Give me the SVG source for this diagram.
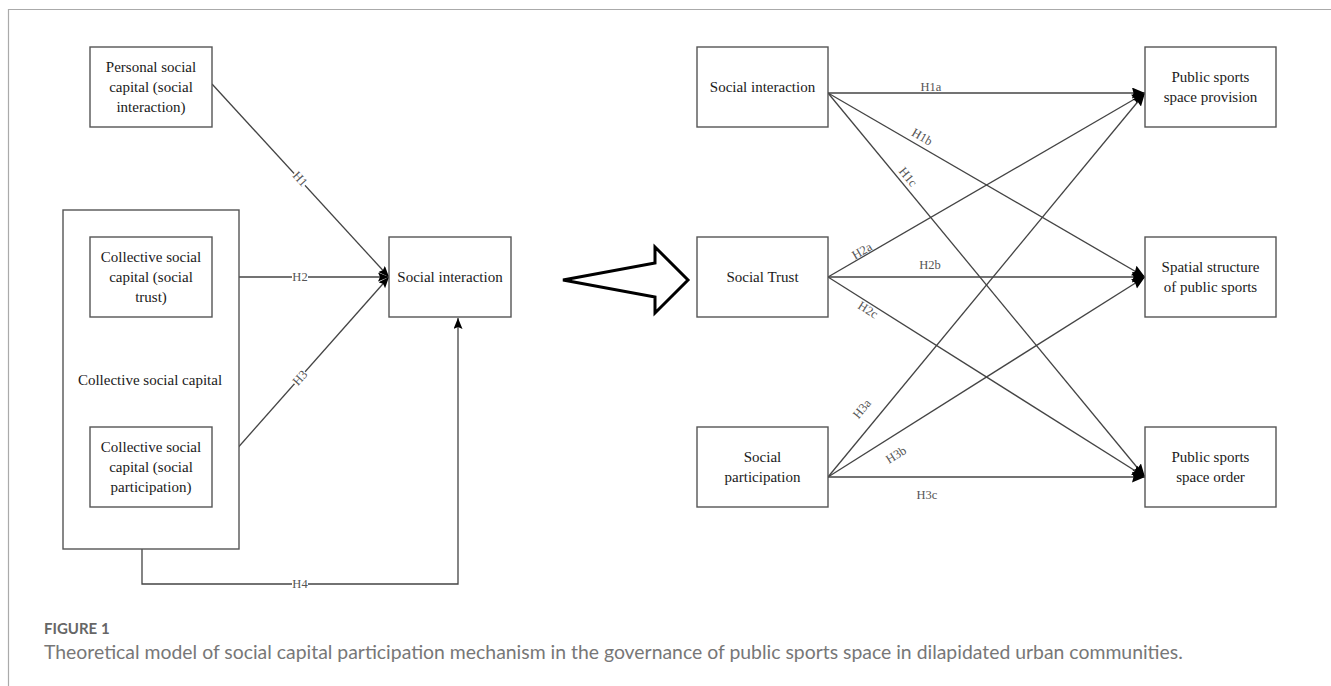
<svg xmlns="http://www.w3.org/2000/svg" width="1331" height="686" viewBox="0 0 1331 686">
<style>
.box{fill:#fff;stroke:#555;stroke-width:1.4}
.t{font-family:"Liberation Serif","Times New Roman",serif;font-size:15px;fill:#1a1a1a;text-anchor:middle}
.lbl{font-family:"Liberation Serif","Times New Roman",serif;font-size:12.5px;fill:#555;text-anchor:middle;dominant-baseline:central}
.ln{fill:none;stroke:#444;stroke-width:1.3}
.cap1{font-family:Lato,"Open Sans",sans-serif;font-size:15px;font-weight:bold;fill:#666}
.cap2{font-family:Lato,"Open Sans",sans-serif;font-size:19.4px;fill:#777}
</style>
<defs>
<marker id="a1" markerUnits="userSpaceOnUse" markerWidth="12" markerHeight="10" refX="11" refY="4.5" orient="auto"><path d="M0,0 L11,4.5 L0,9 L2,4.5 z" fill="#000"/></marker>
<marker id="a2" markerUnits="userSpaceOnUse" markerWidth="14" markerHeight="12" refX="13" refY="5.5" orient="auto"><path d="M0,0 L13,5.5 L0,11 L1.5,5.5 z" fill="#000"/></marker>
</defs>
<rect width="1331" height="686" fill="#fff"/>
<path d="M8.5,686 V9.5 H1331" fill="none" stroke="#aaa" stroke-width="1.2"/>

<g id="connectors">
<line class="ln" x1="212" y1="84" x2="389" y2="277" marker-end="url(#a1)"/>
<line class="ln" x1="212" y1="277" x2="389" y2="277" marker-end="url(#a1)"/>
<line class="ln" x1="212" y1="477" x2="389" y2="277" marker-end="url(#a1)"/>
<path class="ln" d="M142,549 V584 H458 V318" marker-end="url(#a1)"/>
<g fill="#fff">
<rect x="292" y="172" width="16" height="14" transform="rotate(47.5 300 179)"/>
<rect x="292" y="270" width="16" height="14"/>
<rect x="292" y="371" width="16" height="14" transform="rotate(-48.5 300 378)"/>
<rect x="292" y="577" width="16" height="14"/>
</g>
<text class="lbl" x="300" y="179" transform="rotate(47.5 300 179)">H1</text>
<text class="lbl" x="300" y="277">H2</text>
<text class="lbl" x="300" y="378" transform="rotate(-48.5 300 378)">H3</text>
<text class="lbl" x="300" y="584">H4</text>

<line class="ln" x1="828" y1="93" x2="1145" y2="93" marker-end="url(#a2)"/>
<line class="ln" x1="828" y1="93" x2="1145" y2="277" marker-end="url(#a2)"/>
<line class="ln" x1="828" y1="93" x2="1145" y2="477" marker-end="url(#a2)"/>
<line class="ln" x1="828" y1="277" x2="1145" y2="93" marker-end="url(#a2)"/>
<line class="ln" x1="828" y1="277" x2="1145" y2="277" marker-end="url(#a2)"/>
<line class="ln" x1="828" y1="277" x2="1145" y2="477" marker-end="url(#a2)"/>
<line class="ln" x1="828" y1="477" x2="1145" y2="93" marker-end="url(#a2)"/>
<line class="ln" x1="828" y1="477" x2="1145" y2="277" marker-end="url(#a2)"/>
<line class="ln" x1="828" y1="477" x2="1145" y2="477" marker-end="url(#a2)"/>
<text class="lbl" x="931" y="87">H1a</text>
<text class="lbl" x="922" y="137" transform="rotate(30 922 137)">H1b</text>
<text class="lbl" x="908" y="177" transform="rotate(50.5 908 177)">H1c</text>
<text class="lbl" x="862" y="251" transform="rotate(-30 862 251)">H2a</text>
<text class="lbl" x="930" y="265">H2b</text>
<text class="lbl" x="868" y="310" transform="rotate(32 868 310)">H2c</text>
<text class="lbl" x="862" y="409" transform="rotate(-50.5 862 409)">H3a</text>
<text class="lbl" x="896" y="455" transform="rotate(-32 896 455)">H3b</text>
<text class="lbl" x="927" y="495">H3c</text>
</g>

<g id="big-arrow">
<path d="M563,280 L655,263 L655,247 L688,280 L655,313 L655,297 Z" fill="#fff" stroke="#000" stroke-width="3" stroke-linejoin="miter"/>
</g>

<g id="personal">
<rect class="box" x="90" y="47" width="122" height="80"/>
<text class="t" x="151" y="72">Personal social</text>
<text class="t" x="151" y="92">capital (social</text>
<text class="t" x="151" y="112">interaction)</text>
</g>
<g id="collective">
<rect class="box" x="63" y="210" width="176" height="339"/>
<text class="t" x="150" y="385">Collective social capital</text>
</g>
<g id="collective-trust">
<rect class="box" x="90" y="237" width="122" height="80"/>
<text class="t" x="151" y="262">Collective social</text>
<text class="t" x="151" y="282">capital (social</text>
<text class="t" x="151" y="302">trust)</text>
</g>
<g id="collective-participation">
<rect class="box" x="90" y="427" width="122" height="80"/>
<text class="t" x="151" y="452">Collective social</text>
<text class="t" x="151" y="472">capital (social</text>
<text class="t" x="151" y="492">participation)</text>
</g>
<g id="social-interaction-left">
<rect class="box" x="389" y="237" width="122" height="80"/>
<text class="t" x="450" y="282">Social interaction</text>
</g>

<g id="social-interaction">
<rect class="box" x="697" y="47" width="131" height="80"/>
<text class="t" x="762.5" y="92">Social interaction</text>
</g>
<g id="social-trust">
<rect class="box" x="697" y="237" width="131" height="80"/>
<text class="t" x="762.5" y="282">Social Trust</text>
</g>
<g id="social-participation">
<rect class="box" x="697" y="427" width="131" height="80"/>
<text class="t" x="762.5" y="462">Social</text>
<text class="t" x="762.5" y="482">participation</text>
</g>
<g id="provision">
<rect class="box" x="1145" y="47" width="131" height="80"/>
<text class="t" x="1210.5" y="82">Public sports</text>
<text class="t" x="1210.5" y="102">space provision</text>
</g>
<g id="spatial-structure">
<rect class="box" x="1145" y="237" width="131" height="80"/>
<text class="t" x="1210.5" y="272">Spatial structure</text>
<text class="t" x="1210.5" y="292">of public sports</text>
</g>
<g id="order">
<rect class="box" x="1145" y="427" width="131" height="80"/>
<text class="t" x="1210.5" y="462">Public sports</text>
<text class="t" x="1210.5" y="482">space order</text>
</g>

<g id="caption">
<text class="cap1" x="44" y="634">FIGURE 1</text>
<text class="cap2" x="44" y="659">Theoretical model of social capital participation mechanism in the governance of public sports space in dilapidated urban communities.</text>
</g>
</svg>
